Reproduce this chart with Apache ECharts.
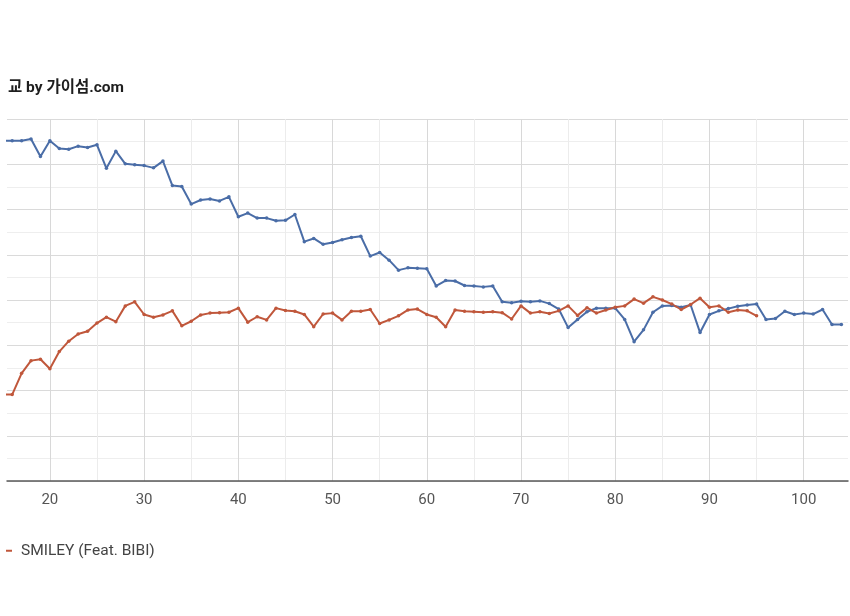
<!DOCTYPE html>
<html>
<head>
<meta charset="utf-8">
<script src="https://cdn.jsdelivr.net/npm/echarts@6/dist/echarts.min.js"></script>
<style>
  html, body { margin: 0; padding: 0; background: #fff; }
  #chart { width: 850px; height: 616px; }
</style>
</head>
<body>
<div id="chart"></div>
<script>
// ---- data ----
const titleText = '교 by 가이섬.com';
const seriesNameBlue = 'Series A';
const seriesNameOrange = 'SMILEY (Feat. BIBI)';

const blueX = [15,16,17,18,19,20,21,22,23,24,25,26,27,28,29,30,31,32,33,34,35,36,37,38,39,40,
  41,42,43,44,45,46,47,48,49,50,51,52,53,54,55,56,57,58,59,60,61,62,63,64,65,66,67,68,69,70,
  71,72,73,74,75,76,77,78,79,80,81,82,83,84,85,86,87,88,89,90,91,92,93,94,95,96,97,98,99,100,
  101,102,103,104];
const blueY = [75.2,75.2,75.2,75.6,71.7,75.2,73.5,73.3,74.0,73.7,74.3,69.1,72.9,70.1,69.9,69.7,
  69.2,70.7,65.3,65.1,61.2,62.1,62.3,61.9,62.8,58.4,59.2,58.1,58.1,57.5,57.6,58.9,52.9,53.6,
  52.3,52.7,53.3,53.8,54.1,49.7,50.5,48.8,46.6,47.1,47.0,46.9,43.1,44.3,44.2,43.2,43.1,42.9,
  43.1,39.6,39.4,39.7,39.6,39.8,39.2,38.0,33.9,35.7,37.4,38.2,38.2,38.2,35.7,30.8,33.4,37.3,
  38.7,38.8,38.4,38.9,32.8,36.8,37.6,38.1,38.6,38.9,39.1,35.7,35.9,37.5,36.8,37.1,36.9,37.9,
  34.6,34.6];

const orangeX = [15,16,17,18,19,20,21,22,23,24,25,26,27,28,29,30,31,32,33,34,35,36,37,38,39,40,
  41,42,43,44,45,46,47,48,49,50,51,52,53,54,55,56,57,58,59,60,61,62,63,64,65,66,67,68,69,70,
  71,72,73,74,75,76,77,78,79,80,81,82,83,84,85,86,87,88,89,90,91,92,93,94,95];
const orangeY = [19.1,19.1,23.8,26.6,26.9,24.8,28.6,30.9,32.5,33.1,34.9,36.2,35.2,38.7,39.6,36.8,
  36.2,36.7,37.6,34.3,35.3,36.7,37.1,37.2,37.3,38.2,35.1,36.3,35.6,38.2,37.7,37.5,36.8,34.1,
  36.9,37.1,35.6,37.5,37.5,37.9,34.8,35.6,36.5,37.8,38.0,36.8,36.2,34.1,37.8,37.5,37.4,37.3,
  37.4,37.2,35.8,38.7,37.1,37.4,37.0,37.6,38.7,36.6,38.3,37.1,37.8,38.4,38.7,40.2,39.3,40.7,
  40.0,39.1,37.9,39.0,40.4,38.4,38.7,37.3,37.8,37.6,36.5];

function pairs(xs, ys) { return xs.map((x, i) => [x, ys[i]]); }

const chart = echarts.init(document.getElementById('chart'), null, { renderer: 'canvas' });
const fontFam = 'Roboto, "Noto Sans CJK KR", sans-serif';

chart.setOption({
  backgroundColor: '#ffffff',
  animation: false,
  title: {
    text: titleText,
    left: 3,
    top: 75,
    textStyle: { fontFamily: fontFam, fontSize: 15.5, fontWeight: 'bold', color: '#1e1e1e' }
  },
  legend: {
    data: [{ name: seriesNameOrange, icon: 'rect' }],
    left: 6,
    top: 543,
    padding: 0,
    itemWidth: 6,
    itemHeight: 2,
    textStyle: { fontFamily: fontFam, fontSize: 15.5, color: '#444', padding: [0, 0, 0, 4] }
  },
  grid: { left: 7, right: 2, top: 119, bottom: 135, containLabel: false },
  xAxis: {
    type: 'value',
    min: 15.45,
    max: 104.7,
    splitNumber: 9,
    axisLine: { show: true, onZero: false, lineStyle: { color: '#5a5a5a', width: 1.5 } },
    axisTick: { show: false },
    axisLabel: { showMinLabel: false, showMaxLabel: false, color: '#555', fontSize: 15, margin: 12, fontFamily: fontFam },
    splitLine: { show: true, showMinLine: false, showMaxLine: false, lineStyle: { color: '#d8d8d8', width: 1 } },
    minorTick: { show: false, splitNumber: 2 },
    minorSplitLine: { show: true, lineStyle: { color: '#ececec', width: 1 } }
  },
  yAxis: {
    type: 'value',
    min: 0,
    max: 80,
    interval: 10,
    axisLine: { show: false },
    axisTick: { show: false },
    axisLabel: { show: false },
    splitLine: { show: true, lineStyle: { color: '#dadada', width: 1 } },
    minorTick: { show: false, splitNumber: 2 },
    minorSplitLine: { show: true, lineStyle: { color: '#eeeeee', width: 1 } }
  },
  series: [
    {
      name: seriesNameBlue,
      type: 'line',
      data: pairs(blueX, blueY),
      clip: true,
      symbol: 'circle',
      symbolSize: 3.5,
      showSymbol: true,
      lineStyle: { color: '#4a6da7', width: 2 },
      itemStyle: { color: '#4a6da7' }
    },
    {
      name: seriesNameOrange,
      type: 'line',
      data: pairs(orangeX, orangeY),
      clip: true,
      symbol: 'circle',
      symbolSize: 3.5,
      showSymbol: true,
      lineStyle: { color: '#c0573b', width: 2 },
      itemStyle: { color: '#c0573b' }
    }
  ]
});
</script>
</body>
</html>
